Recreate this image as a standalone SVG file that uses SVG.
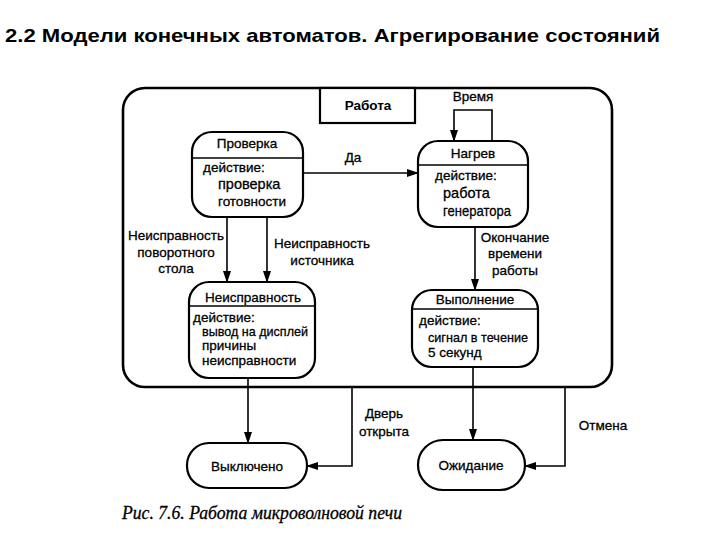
<svg xmlns="http://www.w3.org/2000/svg" width="720" height="540" viewBox="0 0 720 540">
<defs>
<marker id="ah" markerWidth="12" markerHeight="8" refX="11" refY="4" orient="auto" markerUnits="userSpaceOnUse">
<path d="M0,0 L12,4 L0,8 Z" fill="#000"/>
</marker>
<style>
.n{fill:#fff;stroke:#000;stroke-width:2.2}
.d{stroke:#000;stroke-width:1.6}
.c{fill:none;stroke:#000;stroke-width:1.6}
text{font-family:"Liberation Sans",Arial,sans-serif;fill:#000}
.t,.l,.lb{font-size:13.5px;stroke:#000;stroke-width:0.3}
.t,.lb{text-anchor:middle}
</style>
</defs>
<rect width="720" height="540" fill="#fff"/>
<text x="5" y="42" font-size="19" font-weight="bold" textLength="655" lengthAdjust="spacingAndGlyphs">2.2 Модели конечных автоматов. Агрегирование состояний</text>

<g id="rabota">
<rect x="123" y="88" width="489" height="299" rx="22" fill="none" stroke="#000" stroke-width="2.6"/>
<rect x="320" y="88" width="95" height="35" fill="#fff" stroke="#000" stroke-width="2.2"/>
<text x="368" y="110" class="t" font-weight="bold" style="stroke-width:0">Работа</text>
</g>

<g id="connectors">
<path class="c" d="M303,173 H418" marker-end="url(#ah)"/>
<path class="c" d="M492,141 V110 H454 V141" marker-end="url(#ah)"/>
<path class="c" d="M227,217 V282" marker-end="url(#ah)"/>
<path class="c" d="M267,217 V282" marker-end="url(#ah)"/>
<path class="c" d="M475,227 V290" marker-end="url(#ah)"/>
<path class="c" d="M248,378 V443" marker-end="url(#ah)"/>
<path class="c" d="M352,387 V466 H307" marker-end="url(#ah)"/>
<path class="c" d="M473,367 V440" marker-end="url(#ah)"/>
<path class="c" d="M565,387 V466 H525" marker-end="url(#ah)"/>
<text x="353" y="162" class="lb">Да</text>
<text x="473" y="101" class="lb">Время</text>
<text x="176" y="240" class="lb">Неисправность</text>
<text x="176" y="257" class="lb">поворотного</text>
<text x="176" y="273" class="lb">стола</text>
<text x="322" y="248" class="lb">Неисправность</text>
<text x="322" y="265" class="lb">источника</text>
<text x="515" y="242" class="lb">Окончание</text>
<text x="515" y="258" class="lb">времени</text>
<text x="515" y="275" class="lb">работы</text>
<text x="384" y="418" class="lb">Дверь</text>
<text x="384" y="436" class="lb">открыта</text>
<text x="603" y="430" class="lb">Отмена</text>
</g>

<g id="proverka">
<rect class="n" x="192" y="132" width="111" height="85" rx="20"/>
<line class="d" x1="192" y1="158" x2="303" y2="158"/>
<text x="247" y="148" class="t">Проверка</text>
<text x="203" y="172" class="l">действие:</text>
<text x="218" y="189" class="l" style="font-size:14.5px">проверка</text>
<text x="218" y="206" class="l">готовности</text>
</g>

<g id="nagrev">
<rect class="n" x="418" y="141" width="110" height="86" rx="20"/>
<line class="d" x1="418" y1="165" x2="528" y2="165"/>
<text x="473" y="158" class="t">Нагрев</text>
<text x="435" y="180" class="l">действие:</text>
<text x="443" y="198" class="l" style="font-size:14.5px">работа</text>
<text x="443" y="216" class="l" style="font-size:14.5px" textLength="68" lengthAdjust="spacingAndGlyphs">генератора</text>
</g>

<g id="neispravnost">
<rect class="n" x="189" y="282" width="126" height="96" rx="20"/>
<line class="d" x1="189" y1="306" x2="315" y2="306"/>
<text x="253" y="302" class="t">Неисправность</text>
<text x="193" y="322" class="l">действие:</text>
<text x="202" y="336" class="l" textLength="106" lengthAdjust="spacingAndGlyphs">вывод на дисплей</text>
<text x="202" y="350" class="l">причины</text>
<text x="202" y="365" class="l">неисправности</text>
</g>

<g id="vypolnenie">
<rect class="n" x="412" y="290" width="126" height="77" rx="20"/>
<line class="d" x1="412" y1="309" x2="538" y2="309"/>
<text x="475" y="304" class="t">Выполнение</text>
<text x="419" y="325" class="l">действие:</text>
<text x="428" y="342" class="l" textLength="100" lengthAdjust="spacingAndGlyphs">сигнал в течение</text>
<text x="428" y="357" class="l">5 секунд</text>
</g>

<g id="vyklyucheno">
<rect class="n" x="187" y="443" width="120" height="45" rx="22"/>
<text x="247" y="471" class="t">Выключено</text>
</g>

<g id="ozhidanie">
<rect class="n" x="418" y="440" width="107" height="50" rx="25"/>
<text x="471" y="470" class="t">Ожидание</text>
</g>

<text x="122" y="519" font-style="italic" font-size="18" textLength="280" lengthAdjust="spacingAndGlyphs" style="font-family:'Liberation Serif','Times New Roman',serif;stroke:#000;stroke-width:0.3">Рис. 7.6. Работа микроволновой печи</text>
</svg>
